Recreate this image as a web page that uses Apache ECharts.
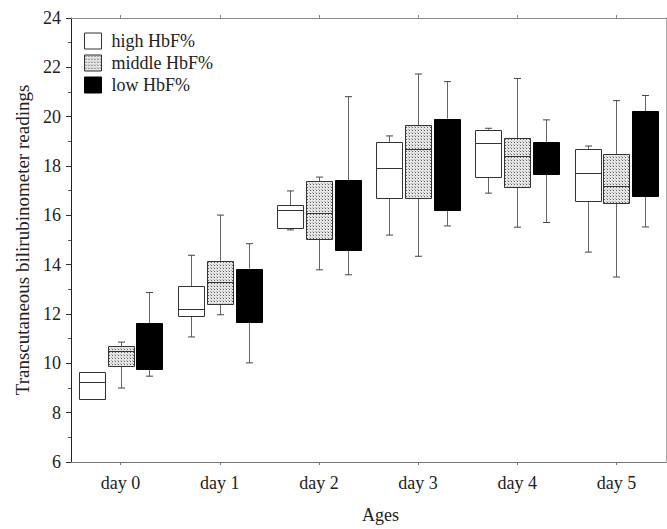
<!DOCTYPE html>
<html>
<head>
<meta charset="utf-8">
<script src="https://cdn.jsdelivr.net/npm/echarts@6/dist/echarts.min.js"></script>
<style>
html,body{margin:0;padding:0;background:#fff;}
#chart{width:667px;height:529px;}
</style>
</head>
<body>
<div id="chart"></div>
<script>
// ---- data ----
const categories = ['day 0', 'day 1', 'day 2', 'day 3', 'day 4', 'day 5'];
const seriesNames = ['high HbF%', 'middle HbF%', 'low HbF%'];
// each entry: [min, Q1, median, Q3, max]
const highHbF = [
  [8.56, 8.56, 9.24, 9.65, 9.65],
  [11.07, 11.93, 12.2, 13.13, 14.38],
  [15.41, 15.48, 16.2, 16.41, 16.99],
  [15.2, 16.72, 17.93, 18.96, 19.22],
  [16.9, 17.54, 18.93, 19.47, 19.53],
  [14.51, 16.57, 17.71, 18.69, 18.81]
];
const middleHbF = [
  [9.0, 9.88, 10.51, 10.69, 10.86],
  [11.97, 12.4, 13.3, 14.15, 16.01],
  [13.79, 15.04, 16.11, 17.39, 17.55],
  [14.34, 16.72, 18.68, 19.65, 21.73],
  [15.52, 17.15, 18.42, 19.12, 21.55],
  [13.5, 16.48, 17.2, 18.48, 20.65]
];
const lowHbF = [
  [9.48, 9.78, 10.6, 11.63, 12.87],
  [10.02, 11.66, 12.6, 13.84, 14.85],
  [13.59, 14.61, 16.0, 17.43, 20.81],
  [15.57, 16.21, 18.0, 19.92, 21.42],
  [15.71, 17.66, 18.3, 18.97, 19.87],
  [15.53, 16.8, 18.5, 20.23, 20.86]
];
const yTicks = { min: 6, max: 24, interval: 2 };

// ---- styles ----
const FONT = 'Liberation Serif';
const FS = 18;
function makeDots() {
  const c = document.createElement('canvas');
  c.width = 3; c.height = 3;
  const g = c.getContext('2d');
  g.fillStyle = '#e6e6e6'; g.fillRect(0, 0, 3, 3);
  g.fillStyle = '#5e5e5e'; g.fillRect(1, 1, 1, 1);
  g.fillStyle = '#b0b0b0'; g.fillRect(0, 0, 1, 1);
  return { image: c, repeat: 'repeat' };
}
const fills = ['#ffffff', makeDots(), '#000000'];
const borders = ['#333333', '#333333', '#000000'];
const offsets = [-0.29, 0, 0.29];
const BOX_FRAC = 0.262;

function makeRender(si) {
  return function (params, api) {
    const ci = api.value(0);
    const band = api.size([1, 0])[0];
    const cx = Math.round(api.coord([ci, 0])[0] + offsets[si] * band);
    const bw = Math.round(BOX_FRAC * band);
    const y = k => api.coord([ci, api.value(k)])[1];
    const yMin = y(1), yQ1 = y(2), yMed = y(3), yQ3 = y(4), yMax = y(5);
    const xl = cx - bw / 2;
    const capW = 3.5;
    const lx = cx + 0.5;
    const wStyle = { stroke: '#666', lineWidth: 1 };
    const children = [];
    if (yMax < yQ3 - 0.5) {
      children.push({ type: 'line', shape: { x1: lx, y1: yQ3, x2: lx, y2: yMax }, style: wStyle });
      children.push({ type: 'line', shape: { x1: lx - capW, y1: yMax, x2: lx + capW, y2: yMax }, style: { stroke: '#444', lineWidth: 1 } });
    }
    if (yMin > yQ1 + 0.5) {
      children.push({ type: 'line', shape: { x1: lx, y1: yQ1, x2: lx, y2: yMin }, style: wStyle });
      children.push({ type: 'line', shape: { x1: lx - capW, y1: yMin, x2: lx + capW, y2: yMin }, style: { stroke: '#444', lineWidth: 1 } });
    }
    children.push({
      type: 'rect',
      shape: { x: Math.round(xl) + 0.5, y: Math.round(yQ3) + 0.5, width: bw, height: Math.round(yQ1) - Math.round(yQ3) },
      style: { fill: fills[si], stroke: borders[si], lineWidth: 1 }
    });
    children.push({
      type: 'line',
      shape: { x1: Math.round(xl) + 0.5, y1: Math.round(yMed) + 0.5, x2: Math.round(xl) + 0.5 + bw, y2: Math.round(yMed) + 0.5 },
      style: { stroke: borders[si], lineWidth: 1 }
    });
    return { type: 'group', children: children };
  };
}

const allData = [highHbF, middleHbF, lowHbF];
const series = allData.map((arr, si) => ({
  name: seriesNames[si],
  type: 'custom',
  renderItem: makeRender(si),
  itemStyle: { color: fills[si], borderColor: borders[si], borderWidth: 1 },
  encode: { x: 0, y: [1, 2, 3, 4, 5] },
  data: arr.map((v, i) => [i].concat(v)),
  z: 3
}));

const chart = echarts.init(document.getElementById('chart'), null, { renderer: 'svg' });
chart.setOption({
  animation: false,
  backgroundColor: '#ffffff',
  textStyle: { fontFamily: FONT },
  grid: { left: 71, right: 1, top: 18, bottom: 63, containLabel: false },
  legend: {
    orient: 'vertical',
    left: 84, top: 32,
    padding: 0,
    icon: 'rect',
    itemWidth: 17, itemHeight: 16, itemGap: 4,
    selectedMode: false,
    textStyle: { fontFamily: FONT, fontSize: FS, color: '#222', padding: [0, 0, 0, 5] },
    data: seriesNames.map((n, i) => ({ name: n, itemStyle: { color: fills[i], borderColor: borders[i], borderWidth: 1 } }))
  },
  xAxis: [{
    type: 'category',
    data: categories,
    position: 'bottom',
    name: 'Ages',
    nameLocation: 'middle',
    nameGap: 44,
    nameTextStyle: { fontFamily: FONT, fontSize: FS, color: '#222', padding: [0, 0, 0, 24] },
    axisLine: { lineStyle: { color: '#777', width: 1 } },
    axisTick: { show: true, alignWithLabel: true, length: 3, lineStyle: { color: '#777' } },
    axisLabel: { fontFamily: FONT, fontSize: FS, color: '#222', margin: 12 },
    splitLine: { show: false }
  }, {
    type: 'category',
    data: categories,
    position: 'top',
    axisLine: { lineStyle: { color: '#888', width: 1 } },
    axisTick: { show: true, alignWithLabel: true, length: 3, lineStyle: { color: '#888' } },
    axisLabel: { show: false },
    splitLine: { show: false }
  }],
  yAxis: [{
    type: 'value',
    min: yTicks.min, max: yTicks.max, interval: yTicks.interval,
    name: 'Transcutaneous bilirubinometer readings',
    nameLocation: 'middle',
    nameGap: 36,
    nameTextStyle: { fontFamily: FONT, fontSize: 19, color: '#222' },
    axisLine: { show: true, lineStyle: { color: '#222', width: 1 } },
    axisTick: { show: true, length: 5, lineStyle: { color: '#333' } },
    minorTick: { show: true, splitNumber: 2, length: 3, lineStyle: { color: '#555' } },
    axisLabel: { fontFamily: FONT, fontSize: FS, color: '#222', margin: 10 },
    splitLine: { show: false }
  }, {
    type: 'value',
    position: 'right',
    min: yTicks.min, max: yTicks.max, interval: yTicks.interval,
    axisLine: { show: true, lineStyle: { color: '#aaa', width: 1 } },
    axisTick: { show: false },
    axisLabel: { show: false },
    splitLine: { show: false }
  }],
  series: series
});
</script>
</body>
</html>
